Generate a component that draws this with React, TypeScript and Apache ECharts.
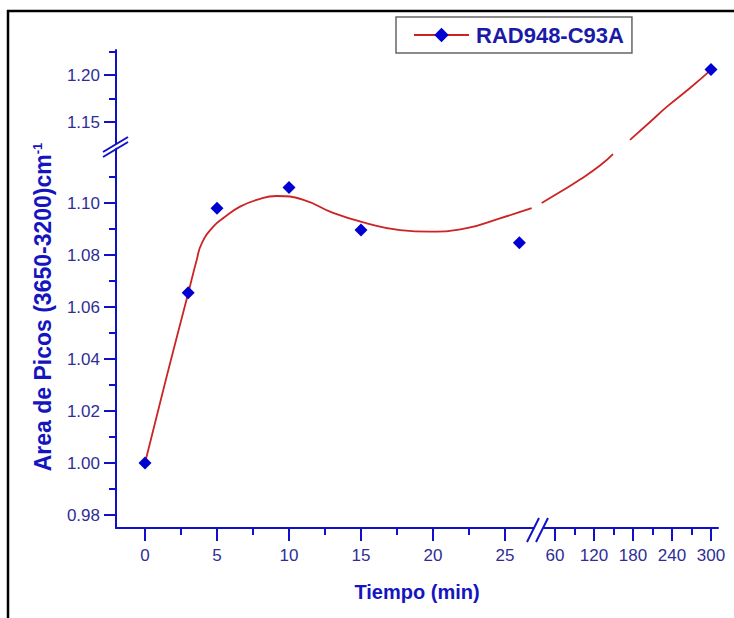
import React, { useEffect, useRef } from "react";
import * as echarts from "echarts";

// ---------- data ----------
const SERIES_NAME = "RAD948-C93A";
const TIME_MIN = [0, 3, 5, 10, 15, 26, 300];
const PEAK_AREA = [1.0, 1.0655, 1.098, 1.106, 1.0896, 1.0847, 1.2058];

// fitted curve; null marks where the curve is cut by an axis break
const FIT_TIME = [
  0, 1.5, 3.0, 3.59, 3.94, 4.74, 5.56, 6.6, 7.76, 9.15, 11.0, 13.06, 15.4, 17.71, 19.79, 22.34, 24.65, 26.85,
  null,
  39.5, 67.7, 98.5, 129.2, 149.2,
  null,
  175.4, 206.2, 232.3, 267.7, 300,
];
const FIT_AREA = [
  1.0, 1.0332, 1.0653, 1.0781, 1.0845, 1.0909, 1.0947, 1.0986, 1.1012, 1.1027, 1.1012, 1.0962, 1.0922, 1.0896, 1.089, 1.0903, 1.0941, 1.098,
  null,
  1.1, 1.1042, 1.109, 1.1144, 1.1188,
  null,
  1.1309, 1.15, 1.1663, 1.1862, 1.2055,
];

const X_MAJOR_TICKS = [0, 5, 10, 15, 20, 25, 60, 120, 180, 240, 300];
const X_MINOR_TICKS = [2.5, 7.5, 12.5, 17.5, 22.5, 90, 150, 210, 270];
const Y_MAJOR_TICKS = [0.98, 1.0, 1.02, 1.04, 1.06, 1.08, 1.1, 1.15, 1.2];
const Y_MINOR_TICKS = [0.99, 1.01, 1.03, 1.05, 1.07, 1.09, 1.11, 1.175, 1.225];

// ---------- broken-axis scales (value -> axis units) ----------
const X_EXTENT = 602;
const X_BREAK = 421;
const Y_EXTENT = 478;
const Y_BREAK = 381;
const tx = (x: number) => (x < 32 ? 29 + 14.4 * x : 439 + (x - 60) * 0.65);
const ty = (y: number) => (y < 1.125 ? 65 + (y - 1) * 2600 : 406 + (y - 1.15) * 940);

const AXIS = "#1010c8";
const LABEL = "#2e2e96";
const TITLE = "#1414c0";
const FONT = "'Liberation Sans', Arial, sans-serif";

const key = (v: number) => Number(v).toFixed(2);
const xLabelMap = new Map(X_MAJOR_TICKS.map((t) => [key(tx(t)), String(t)]));
const yLabelMap = new Map(Y_MAJOR_TICKS.map((t) => [key(ty(t)), t.toFixed(2)]));

export default function App() {
  const ref = useRef<HTMLDivElement>(null);
  useEffect(() => {
    if (!ref.current) return;
    const chart = echarts.init(ref.current, null, { renderer: "svg" });

    const points = TIME_MIN.map((t, i) => [tx(t), ty(PEAK_AREA[i])]);
    const fit = FIT_TIME.map((t, i) =>
      t === null || FIT_AREA[i] === null ? ["-", "-"] : [tx(t), ty(FIT_AREA[i] as number)]
    );

    const labelStyle = { color: LABEL, fontSize: 17, fontFamily: FONT };
    const titleStyle = { color: TITLE, fontSize: 20, fontWeight: "bold", fontFamily: FONT };

    chart.setOption({
      animation: false,
      backgroundColor: "#ffffff",
      grid: { left: 116, top: 50, width: 602, height: 478, containLabel: false },
      legend: {
        data: [SERIES_NAME],
        left: 396,
        top: 17,
        orient: "horizontal",
        padding: [7, 8, 7, 17],
        itemWidth: 55,
        itemHeight: 18,
        itemGap: 0,
        borderColor: "#666",
        borderWidth: 1.5,
        backgroundColor: "#fff",
        selectedMode: false,
        textStyle: { fontSize: 22, fontWeight: "bold", color: "#1a1aa8", fontFamily: FONT, padding: [0, 0, 0, 2] },
      },
      xAxis: [
        {
          type: "value",
          min: 0,
          max: X_EXTENT,
          position: "bottom",
          axisLine: { show: true, onZero: false, lineStyle: { color: AXIS, width: 2 } },
          axisTick: { show: true, customValues: X_MAJOR_TICKS.map(tx), length: 13, lineStyle: { color: AXIS, width: 2 } },
          axisLabel: {
            customValues: X_MAJOR_TICKS.map(tx),
            formatter: (v: number) => xLabelMap.get(key(v)) ?? "",
            margin: 19,
            ...labelStyle,
          },
          splitLine: { show: false },
          name: "Tiempo (min)",
          nameLocation: "middle",
          nameGap: 54,
          nameTextStyle: titleStyle,
        },
        {
          type: "value",
          min: 0,
          max: X_EXTENT,
          position: "bottom",
          offset: 0,
          axisLine: { show: false },
          axisTick: { show: true, customValues: X_MINOR_TICKS.map(tx), length: 7, lineStyle: { color: AXIS, width: 2 } },
          axisLabel: { show: false },
          splitLine: { show: false },
        },
      ],
      yAxis: [
        {
          type: "value",
          min: 0,
          max: Y_EXTENT,
          position: "left",
          axisLine: { show: true, onZero: false, lineStyle: { color: AXIS, width: 2 } },
          axisTick: { show: true, customValues: Y_MAJOR_TICKS.map(ty), length: 12, lineStyle: { color: AXIS, width: 2 } },
          axisLabel: {
            customValues: Y_MAJOR_TICKS.map(ty),
            formatter: (v: number) => yLabelMap.get(key(v)) ?? "",
            margin: 16,
            ...labelStyle,
          },
          splitLine: { show: false },
          name: "Area de Picos (3650-3200)cm{sup|-1}",
          nameLocation: "middle",
          nameGap: 62,
          nameTextStyle: {
            ...titleStyle,
            fontSize: 23,
            padding: [0, 36, 0, 0],
            rich: {
              sup: { fontSize: 13, fontWeight: "bold", color: TITLE, fontFamily: FONT, verticalAlign: "top", lineHeight: 13 },
            },
          },
        },
        {
          type: "value",
          min: 0,
          max: Y_EXTENT,
          position: "left",
          offset: 0,
          axisLine: { show: false },
          axisTick: { show: true, customValues: Y_MINOR_TICKS.map(ty), length: 7, lineStyle: { color: AXIS, width: 2 } },
          axisLabel: { show: false },
          splitLine: { show: false },
        },
      ],
      series: [
        {
          name: SERIES_NAME,
          type: "line",
          data: [],
          symbol: "diamond",
          itemStyle: { color: "#0000d0" },
          lineStyle: { color: "#cc2222", width: 2 },
        },
        {
          name: "fit",
          type: "line",
          data: fit,
          smooth: 0.5,
          connectNulls: false,
          showSymbol: false,
          symbol: "none",
          lineStyle: { color: "#cc2424", width: 1.8 },
          z: 2,
        },
        {
          name: "points",
          type: "scatter",
          data: points,
          symbol: "diamond",
          symbolSize: 13,
          itemStyle: { color: "#0000d0", opacity: 1 },
          z: 3,
        },
      ],
    });

    const [bx, axisY] = chart.convertToPixel({ gridIndex: 0 }, [X_BREAK, 0]) as number[];
    const [axisX, by] = chart.convertToPixel({ gridIndex: 0 }, [0, Y_BREAK]) as number[];

    chart.setOption({
      graphic: [
        // figure frame
        { type: "line", shape: { x1: 7, y1: 11, x2: 734, y2: 11 }, style: { stroke: "#000", lineWidth: 2.5 }, z: 100 },
        { type: "line", shape: { x1: 8, y1: 10, x2: 8, y2: 618 }, style: { stroke: "#000", lineWidth: 2.5 }, z: 100 },
        // x-axis break
        {
          type: "polygon",
          shape: { points: [[bx - 5, axisY + 14], [bx + 4, axisY + 14], [bx + 8, axisY - 10], [bx - 1, axisY - 10]] },
          style: { fill: "#fff" },
          z: 100,
        },
        { type: "line", shape: { x1: bx - 10, y1: axisY + 14, x2: bx + 2, y2: axisY - 10 }, style: { stroke: AXIS, lineWidth: 2 }, z: 101 },
        { type: "line", shape: { x1: bx - 1, y1: axisY + 14, x2: bx + 11, y2: axisY - 10 }, style: { stroke: AXIS, lineWidth: 2 }, z: 101 },
        // y-axis break
        {
          type: "polygon",
          shape: { points: [[axisX - 6, by + 5], [axisX + 6, by - 3], [axisX + 6, by - 7], [axisX - 6, by + 1]] },
          style: { fill: "#fff" },
          z: 100,
        },
        { type: "line", shape: { x1: axisX - 13, y1: by + 10, x2: axisX + 12, y2: by - 5 }, style: { stroke: AXIS, lineWidth: 2 }, z: 101 },
        { type: "line", shape: { x1: axisX - 13, y1: by + 5, x2: axisX + 12, y2: by - 10 }, style: { stroke: AXIS, lineWidth: 2 }, z: 101 },
      ],
    });

    return () => chart.dispose();
  }, []);

  return (
    <div
      ref={ref}
      style={{ position: "fixed", left: 0, top: 0, width: 734, height: 618, background: "#fff" }}
    />
  );
}
